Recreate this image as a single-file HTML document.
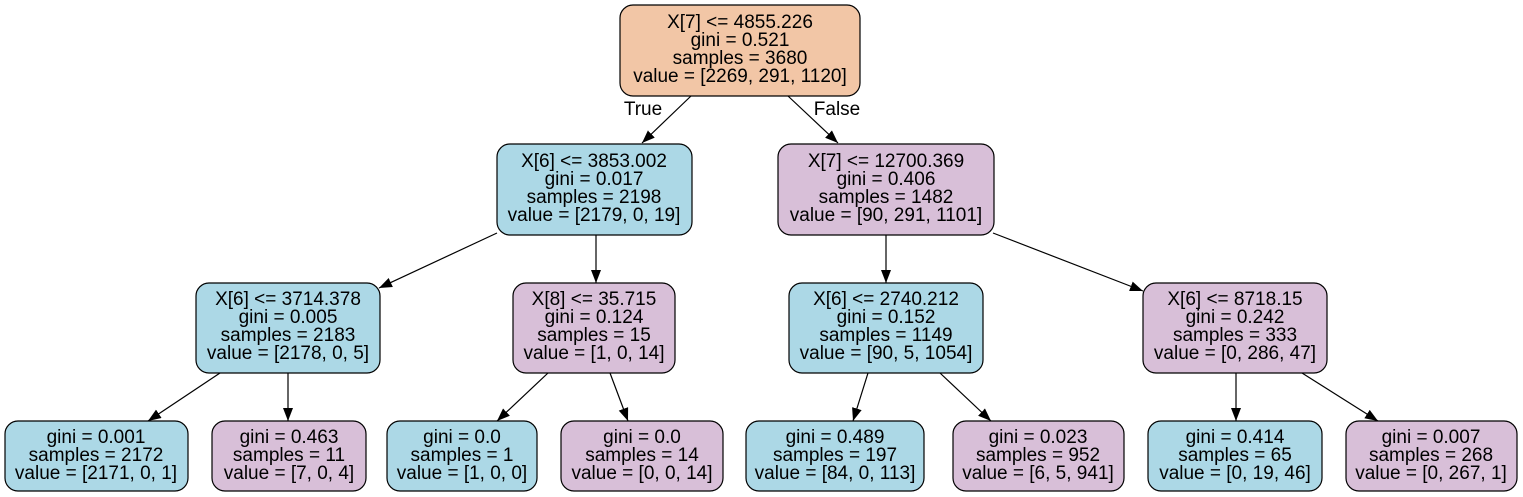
<!DOCTYPE html>
<html><head><meta charset="utf-8"><style>
html,body{margin:0;padding:0;background:#fff;}
svg{display:block;}
text{font-family:"Liberation Sans",Arial,sans-serif;font-size:19px;fill:#000;text-anchor:middle;}
rect{stroke:#000;stroke-width:1.2;}
line{stroke:#000;stroke-width:1.2;}
</style></head><body>
<svg width="1523" height="497" viewBox="0 0 1523 497" xmlns="http://www.w3.org/2000/svg">
<defs><marker id="a" markerWidth="14" markerHeight="12" refX="13" refY="5" orient="auto" markerUnits="userSpaceOnUse"><path d="M0,0 L13,5 L0,10 z" fill="#000"/></marker></defs>
<g>
<rect x="620" y="5" width="240" height="91" rx="13" fill="#f2c6a6"/>
<text x="740" y="28">X[7] &lt;= 4855.226</text><text x="740" y="46">gini = 0.521</text><text x="740" y="64">samples = 3680</text><text x="740" y="82">value = [2269, 291, 1120]</text>

<rect x="497" y="144" width="195" height="91" rx="13" fill="#acd8e6"/>
<text x="594" y="167">X[6] &lt;= 3853.002</text><text x="594" y="185">gini = 0.017</text><text x="594" y="203">samples = 2198</text><text x="594" y="221">value = [2179, 0, 19]</text>

<rect x="778" y="144" width="216" height="91" rx="13" fill="#d8bfd8"/>
<text x="886" y="167">X[7] &lt;= 12700.369</text><text x="886" y="185">gini = 0.406</text><text x="886" y="203">samples = 1482</text><text x="886" y="221">value = [90, 291, 1101]</text>

<rect x="196" y="283" width="184" height="90" rx="13" fill="#acd8e6"/>
<text x="288" y="305">X[6] &lt;= 3714.378</text><text x="288" y="323">gini = 0.005</text><text x="288" y="341">samples = 2183</text><text x="288" y="359">value = [2178, 0, 5]</text>

<rect x="513" y="283" width="162" height="90" rx="13" fill="#d8bfd8"/>
<text x="594" y="305">X[8] &lt;= 35.715</text><text x="594" y="323">gini = 0.124</text><text x="594" y="341">samples = 15</text><text x="594" y="359">value = [1, 0, 14]</text>

<rect x="789" y="283" width="194" height="90" rx="13" fill="#acd8e6"/>
<text x="886" y="305">X[6] &lt;= 2740.212</text><text x="886" y="323">gini = 0.152</text><text x="886" y="341">samples = 1149</text><text x="886" y="359">value = [90, 5, 1054]</text>

<rect x="1143" y="283" width="184" height="90" rx="13" fill="#d8bfd8"/>
<text x="1235" y="305">X[6] &lt;= 8718.15</text><text x="1235" y="323">gini = 0.242</text><text x="1235" y="341">samples = 333</text><text x="1235" y="359">value = [0, 286, 47]</text>

<rect x="5" y="421" width="183" height="70" rx="13" fill="#acd8e6"/>
<text x="96" y="443">gini = 0.001</text><text x="96" y="461">samples = 2172</text><text x="96" y="479">value = [2171, 0, 1]</text>
<rect x="212" y="421" width="154" height="70" rx="13" fill="#d8bfd8"/>
<text x="289" y="443">gini = 0.463</text><text x="289" y="461">samples = 11</text><text x="289" y="479">value = [7, 0, 4]</text>
<rect x="387" y="421" width="150" height="70" rx="13" fill="#acd8e6"/>
<text x="462" y="443">gini = 0.0</text><text x="462" y="461">samples = 1</text><text x="462" y="479">value = [1, 0, 0]</text>
<rect x="561" y="421" width="162" height="70" rx="13" fill="#d8bfd8"/>
<text x="642" y="443">gini = 0.0</text><text x="642" y="461">samples = 14</text><text x="642" y="479">value = [0, 0, 14]</text>
<rect x="746" y="421" width="178" height="70" rx="13" fill="#acd8e6"/>
<text x="835" y="443">gini = 0.489</text><text x="835" y="461">samples = 197</text><text x="835" y="479">value = [84, 0, 113]</text>
<rect x="953" y="421" width="171" height="70" rx="13" fill="#d8bfd8"/>
<text x="1038" y="443">gini = 0.023</text><text x="1038" y="461">samples = 952</text><text x="1038" y="479">value = [6, 5, 941]</text>
<rect x="1148" y="421" width="174" height="70" rx="13" fill="#acd8e6"/>
<text x="1235" y="443">gini = 0.414</text><text x="1235" y="461">samples = 65</text><text x="1235" y="479">value = [0, 19, 46]</text>
<rect x="1346" y="421" width="171" height="70" rx="13" fill="#d8bfd8"/>
<text x="1431" y="443">gini = 0.007</text><text x="1431" y="461">samples = 268</text><text x="1431" y="479">value = [0, 267, 1]</text>
</g>
<g>
<line x1="691" y1="96" x2="642" y2="143" marker-end="url(#a)"/>
<line x1="788" y1="96" x2="838" y2="143" marker-end="url(#a)"/>
<line x1="497" y1="233" x2="379" y2="288" marker-end="url(#a)"/>
<line x1="596" y1="235" x2="596" y2="283" marker-end="url(#a)"/>
<line x1="886" y1="235" x2="886" y2="283" marker-end="url(#a)"/>
<line x1="993" y1="233" x2="1143" y2="291" marker-end="url(#a)"/>
<line x1="220" y1="373" x2="148" y2="421" marker-end="url(#a)"/>
<line x1="288" y1="373" x2="288" y2="421" marker-end="url(#a)"/>
<line x1="548" y1="373" x2="497" y2="421" marker-end="url(#a)"/>
<line x1="610" y1="373" x2="628" y2="421" marker-end="url(#a)"/>
<line x1="868" y1="373" x2="853" y2="421" marker-end="url(#a)"/>
<line x1="940" y1="373" x2="991" y2="421" marker-end="url(#a)"/>
<line x1="1236" y1="373" x2="1236" y2="421" marker-end="url(#a)"/>
<line x1="1302" y1="373" x2="1378" y2="421" marker-end="url(#a)"/>
</g>
<text x="643" y="115">True</text>
<text x="837" y="115">False</text>
</svg>
</body></html>
